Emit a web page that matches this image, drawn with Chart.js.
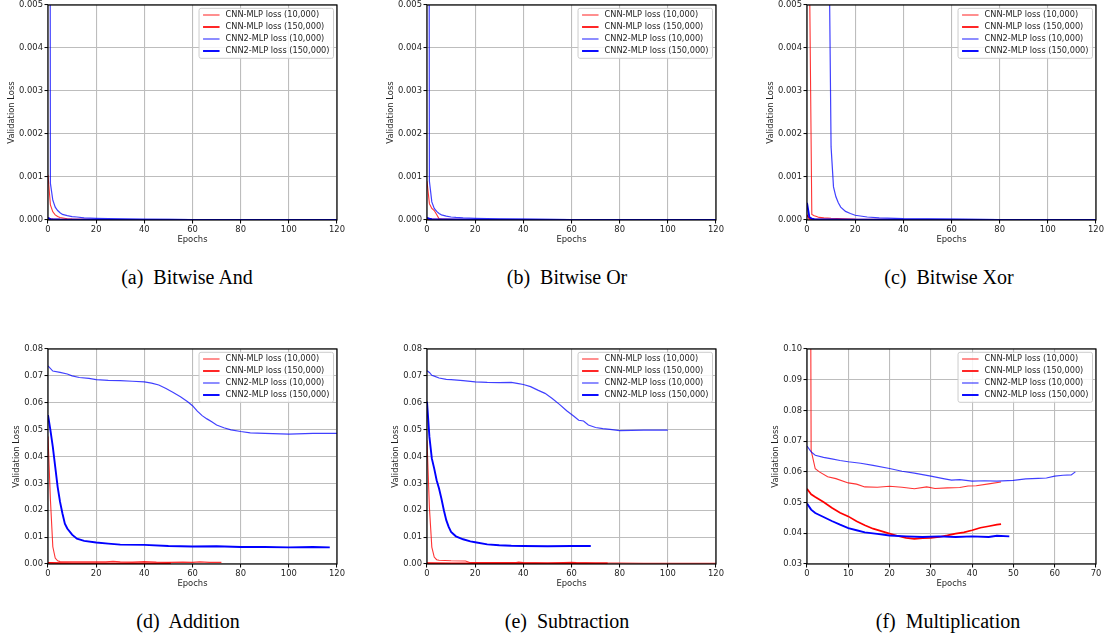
<!DOCTYPE html>
<html>
<head>
<meta charset="utf-8">
<script src="https://cdn.jsdelivr.net/npm/chart.js@4.4.0/dist/chart.umd.min.js"></script>
<style>
  html, body { margin: 0; padding: 0; background: #fff; }
  body { width: 1110px; height: 639px; position: relative; overflow: hidden; }
  canvas { position: absolute; }
  .caption {
    position: absolute;
    font-family: 'Liberation Serif', 'Times New Roman', serif;
    font-size: 20px;
    color: #000;
    transform: translate(-50%, -50%);
    white-space: nowrap;
  }
</style>
</head>
<body>
<canvas id="c-and"></canvas>
<canvas id="c-or"></canvas>
<canvas id="c-xor"></canvas>
<canvas id="c-add"></canvas>
<canvas id="c-sub"></canvas>
<canvas id="c-mul"></canvas>
<div class="caption" style="left:187px; top:277px">(a)&nbsp; Bitwise And</div>
<div class="caption" style="left:567px; top:277px">(b)&nbsp; Bitwise Or</div>
<div class="caption" style="left:949px; top:277px">(c)&nbsp; Bitwise Xor</div>
<div class="caption" style="left:188px; top:621px">(d)&nbsp; Addition</div>
<div class="caption" style="left:567px; top:621px">(e)&nbsp; Subtraction</div>
<div class="caption" style="left:948px; top:621px">(f)&nbsp; Multiplication</div>
<script>
// legend labels, same order in every panel
const seriesLabels = ['CNN-MLP loss (10,000)', 'CNN-MLP loss (150,000)', 'CNN2-MLP loss (10,000)', 'CNN2-MLP loss (150,000)'];

// (a) Bitwise And
const andCnn10Epochs = [0, 1, 2, 3, 4, 5, 8, 10, 15, 20, 30, 40, 60, 80, 100, 120];
const andCnn10Loss = [0.00105, 0.00035, 0.00019, 0.00012, 0.00008, 0.00006, 0.00003, 0.00002, 0.000015, 0.00001, 0.000008, 0.000006, 0.000005, 0.000004, 0.000004, 0.000003];
const andCnn150Epochs = [0, 1, 2, 5, 10, 20, 40, 60, 80, 100, 120];
const andCnn150Loss = [0.00004, 0.00002, 0.000015, 0.00001, 0.000008, 0.000006, 0.000005, 0.000004, 0.000004, 0.000003, 0.000003];
const andCnn2_10Epochs = [0, 1, 2, 3, 4, 5, 6, 8, 10, 12, 15, 20, 25, 30, 40, 50, 60, 80, 100, 120];
const andCnn2_10Loss = [0.06, 0.00085, 0.00046, 0.0003, 0.00022, 0.00017, 0.00013, 0.0001, 0.00008, 0.00007, 0.00005, 0.00004, 0.00003, 0.000025, 0.000018, 0.000014, 0.000012, 0.00001, 0.000008, 0.000007];
const andCnn2_150Epochs = [0, 1, 2, 5, 10, 20, 40, 60, 80, 100, 120];
const andCnn2_150Loss = [0.00005, 0.00002, 0.000015, 0.00001, 0.000008, 0.000006, 0.000005, 0.000004, 0.000004, 0.000003, 0.000003];

// (b) Bitwise Or
const orCnn10Epochs = [0, 1, 2, 3, 4, 5, 6, 8, 10, 15, 20, 30, 40, 60, 80, 100, 120];
const orCnn10Loss = [0.0009, 0.00038, 0.00027, 0.00022, 0.00013, 0.00003, 0.00002, 0.000015, 0.00001, 0.000008, 0.000006, 0.000005, 0.000004, 0.000004, 0.000003, 0.000003, 0.000003];
const orCnn150Epochs = [0, 1, 2, 5, 10, 20, 40, 60, 80, 100, 120];
const orCnn150Loss = [0.00003, 0.00002, 0.000015, 0.00001, 0.000008, 0.000006, 0.000005, 0.000004, 0.000004, 0.000003, 0.000003];
const orCnn2_10Epochs = [0, 1, 2, 3, 4, 5, 6, 8, 10, 12, 15, 20, 25, 30, 40, 50, 60, 80, 100, 120];
const orCnn2_10Loss = [0.05, 0.0009, 0.00042, 0.00027, 0.0002, 0.00015, 0.00012, 0.00009, 0.00007, 0.00006, 0.00005, 0.00004, 0.00003, 0.000025, 0.00002, 0.000015, 0.000012, 0.00001, 0.000008, 0.000007];
const orCnn2_150Epochs = [0, 1, 2, 5, 10, 20, 40, 60, 80, 100, 120];
const orCnn2_150Loss = [0.00005, 0.00003, 0.00002, 0.000012, 0.00001, 0.000007, 0.000005, 0.000004, 0.000004, 0.000003, 0.000003];

// (c) Bitwise Xor
const xorCnn10Epochs = [0, 1, 2, 3, 4, 5, 7, 10, 15, 20, 30, 40, 60, 80, 100, 120];
const xorCnn10Loss = [0.02, 0.006, 0.00013, 0.0001, 0.00008, 0.00006, 0.00005, 0.00004, 0.00003, 0.00002, 0.000015, 0.00001, 0.000008, 0.000006, 0.000005, 0.000005];
const xorCnn150Epochs = [0, 1, 2, 3, 5, 10, 20, 40, 60, 80, 100, 120];
const xorCnn150Loss = [0.00012, 0.00003, 0.00002, 0.000015, 0.00001, 0.000008, 0.000006, 0.000005, 0.000004, 0.000004, 0.000003, 0.000003];
const xorCnn2_10Epochs = [0, 3, 6, 8, 9, 10, 11, 12, 13, 14, 16, 18, 20, 25, 30, 40, 50, 60, 80, 100, 120];
const xorCnn2_10Loss = [0.09, 0.07, 0.04, 0.02, 0.0073, 0.0017, 0.00077, 0.00054, 0.0004, 0.0003, 0.0002, 0.00015, 0.00011, 0.00007, 0.00005, 0.00003, 0.000025, 0.00002, 0.000012, 0.00001, 0.000008];
const xorCnn2_150Epochs = [0, 1, 2, 3, 5, 10, 20, 40, 60, 80, 100, 120];
const xorCnn2_150Loss = [0.0004, 0.00006, 0.00003, 0.00002, 0.000015, 0.00001, 0.000008, 0.000006, 0.000005, 0.000004, 0.000004, 0.000003];

// (d) Addition
const addCnn10Epochs = [0, 1, 2, 3, 4, 5, 8, 12, 16, 20, 24, 27, 30, 35, 40, 45, 50, 56, 60, 63, 67, 72];
const addCnn10Loss = [0.0474, 0.024, 0.0064, 0.0022, 0.0012, 0.0009, 0.0008, 0.0008, 0.0008, 0.0008, 0.0008, 0.001, 0.0008, 0.0007, 0.0009, 0.0007, 0.0006, 0.0007, 0.0006, 0.0008, 0.0006, 0.0006];
const addCnn150Epochs = [0, 5, 10, 20, 30, 40, 51];
const addCnn150Loss = [0.0004, 0.0003, 0.0002, 0.0002, 0.0002, 0.0002, 0.0002];
const addCnn2_10Epochs = [0, 2, 5, 8, 10, 13, 17, 20, 25, 30, 35, 40, 43, 46, 49, 52, 55, 58, 60, 62, 64, 66, 68, 70, 73, 76, 80, 84, 90, 100, 110, 120];
const addCnn2_10Loss = [0.0737, 0.0718, 0.0713, 0.0707, 0.07, 0.0694, 0.0691, 0.0686, 0.0683, 0.0682, 0.068, 0.0678, 0.0673, 0.0666, 0.0653, 0.0638, 0.0622, 0.0604, 0.0589, 0.0569, 0.0552, 0.054, 0.0529, 0.0517, 0.0507, 0.0499, 0.0493, 0.0488, 0.0486, 0.0483, 0.0486, 0.0486];
const addCnn2_150Epochs = [0, 1, 2, 3, 4, 5, 6, 7, 8, 10, 12, 15, 20, 25, 30, 40, 50, 60, 70, 80, 90, 100, 110, 117];
const addCnn2_150Loss = [0.0554, 0.0498, 0.0436, 0.0361, 0.0287, 0.0231, 0.0188, 0.015, 0.0132, 0.0109, 0.0094, 0.0086, 0.008, 0.0076, 0.0072, 0.0071, 0.0067, 0.0065, 0.0066, 0.0063, 0.0063, 0.0062, 0.0063, 0.0062];

// (e) Subtraction
const subCnn10Epochs = [0, 1, 2, 3, 4, 5, 10, 16, 18, 25, 30, 37, 38, 40, 50, 60, 62, 70, 80, 90, 100, 110, 120];
const subCnn10Loss = [0.046, 0.021, 0.0063, 0.0026, 0.0016, 0.0014, 0.0012, 0.0011, 0.0005, 0.0005, 0.0005, 0.0005, 0.0007, 0.0005, 0.0004, 0.0006, 0.0005, 0.0004, 0.0004, 0.0003, 0.0003, 0.0003, 0.0003];
const subCnn150Epochs = [0, 10, 20, 30, 40, 50, 60, 75];
const subCnn150Loss = [0.0003, 0.0002, 0.0002, 0.0002, 0.0002, 0.0002, 0.0002, 0.0002];
const subCnn2_10Epochs = [0, 1, 2, 3, 5, 8, 10, 15, 20, 25, 30, 35, 38, 40, 43, 46, 49, 52, 55, 58, 61, 63, 65, 67, 70, 73, 76, 80, 85, 90, 95, 100];
const subCnn2_10Loss = [0.0719, 0.0713, 0.0702, 0.0699, 0.0692, 0.0687, 0.0686, 0.0682, 0.0678, 0.0676, 0.0675, 0.0676, 0.0671, 0.0668, 0.066, 0.0647, 0.0635, 0.0616, 0.0594, 0.057, 0.055, 0.0535, 0.0532, 0.0517, 0.0508, 0.0504, 0.0501, 0.0496, 0.0497, 0.0498, 0.0498, 0.0498];
const subCnn2_150Epochs = [0, 1, 2, 3, 4, 5, 6, 7, 8, 9, 10, 12, 15, 18, 20, 25, 30, 35, 40, 50, 60, 68];
const subCnn2_150Loss = [0.0604, 0.0473, 0.0393, 0.0355, 0.0312, 0.0281, 0.0243, 0.02, 0.0163, 0.0138, 0.0119, 0.0103, 0.0092, 0.0084, 0.0081, 0.0073, 0.007, 0.0068, 0.0067, 0.0066, 0.0067, 0.0067];

// (f) Multiplication
const mulCnn10Epochs = [0, 1, 2, 3, 5, 7, 10, 12, 14, 17, 20, 23, 26, 29, 31, 34, 37, 39, 41, 44, 47];
const mulCnn10Loss = [0.5, 0.067, 0.061, 0.06, 0.0584, 0.0578, 0.0564, 0.056, 0.0551, 0.055, 0.0553, 0.055, 0.0545, 0.0551, 0.0546, 0.0548, 0.0549, 0.0554, 0.0555, 0.0561, 0.0567];
const mulCnn150Epochs = [0, 1, 2, 4, 6, 8, 10, 12, 14, 16, 18, 20, 22, 24, 26, 28, 30, 32, 34, 36, 38, 40, 42, 44, 46, 47];
const mulCnn150Loss = [0.0545, 0.0527, 0.0518, 0.0502, 0.0483, 0.0467, 0.0455, 0.0439, 0.0426, 0.0415, 0.0407, 0.0399, 0.0391, 0.0385, 0.0382, 0.0384, 0.0385, 0.0388, 0.0393, 0.0399, 0.0403, 0.041, 0.0418, 0.0423, 0.0428, 0.043];
const mulCnn2_10Epochs = [0, 1, 2, 4, 6, 8, 10, 13, 16, 20, 23, 26, 30, 33, 35, 37, 40, 43, 46, 50, 53, 56, 58, 60, 62, 64, 65];
const mulCnn2_10Loss = [0.0684, 0.0665, 0.0654, 0.0647, 0.0642, 0.0637, 0.0633, 0.0628, 0.0621, 0.0611, 0.0602, 0.0596, 0.0586, 0.0578, 0.0573, 0.0575, 0.057, 0.0571, 0.057, 0.0572, 0.0577, 0.0579, 0.058, 0.0586, 0.0589, 0.059, 0.06];
const mulCnn2_150Epochs = [0, 1, 2, 4, 6, 8, 10, 12, 14, 17, 20, 24, 28, 32, 36, 40, 44, 46, 49];
const mulCnn2_150Loss = [0.0497, 0.0477, 0.0466, 0.0453, 0.044, 0.0428, 0.0417, 0.041, 0.0403, 0.0398, 0.0393, 0.039, 0.0388, 0.039, 0.0388, 0.039, 0.0388, 0.0392, 0.039];

// line styles per series (thin for 10,000, thick for 150,000)
const lineStyles = [
  { color: 'rgba(255,0,0,0.8)', width: 1.1 },
  { color: '#ff0000', width: 1.7 },
  { color: 'rgba(0,0,255,0.75)', width: 1.2 },
  { color: '#0000ff', width: 1.9 }
];

const TEXT = '#1e1e1e';
const FONT = { family: '"DejaVu Sans", sans-serif', size: 8.4 };

// black box around the plot area, like matplotlib spines
const framePlugin = {
  id: 'frame',
  afterDatasetsDraw(chart) {
    const { ctx, chartArea: a } = chart;
    ctx.save();
    ctx.strokeStyle = '#000';
    ctx.lineWidth = 1.2;
    ctx.strokeRect(a.left, a.top, a.right - a.left, a.bottom - a.top);
    ctx.restore();
  }
};

// upper right legend box with line samples
const boxLegendPlugin = {
  id: 'boxLegend',
  afterDraw(chart) {
    const { ctx, chartArea: a } = chart;
    const sets = chart.data.datasets;
    ctx.save();
    ctx.font = '8.2px "DejaVu Sans", sans-serif';
    const textW = Math.max(...sets.map(d => ctx.measureText(d.label).width));
    const w = 26.5 + textW + 4;
    const h = 50;
    const x = a.right - 3.5 - w;
    const y = a.top + 3.3;
    ctx.fillStyle = 'rgba(255,255,255,0.85)';
    ctx.strokeStyle = '#cccccc';
    ctx.lineWidth = 1;
    ctx.beginPath();
    ctx.roundRect(x, y, w, h, 2);
    ctx.fill();
    ctx.stroke();
    ctx.textBaseline = 'middle';
    sets.forEach((d, i) => {
      const cy = y + 6.7 + i * 12;
      ctx.strokeStyle = d.borderColor;
      ctx.lineWidth = d.borderWidth;
      ctx.beginPath();
      ctx.moveTo(x + 4, cy);
      ctx.lineTo(x + 20.5, cy);
      ctx.stroke();
      ctx.fillStyle = TEXT;
      ctx.fillText(d.label, x + 26.5, cy);
    });
    ctx.restore();
  }
};

const Y_AXIS_W = 46, X_AXIS_H = 30, PAD_TOP = 12, PAD_RIGHT = 24;
const PLOT_W = 289, PLOT_H = 215;

function drawPanel(canvasId, plotLeft, plotTop, series, xMax, xStep, yMin, yMax, yStep, decimals, yTitlePad) {
  const canvas = document.getElementById(canvasId);
  canvas.width = Y_AXIS_W + PLOT_W + PAD_RIGHT;
  canvas.height = PAD_TOP + PLOT_H + X_AXIS_H;
  canvas.style.left = (plotLeft - Y_AXIS_W) + 'px';
  canvas.style.top = (plotTop - PAD_TOP) + 'px';

  const datasets = series.map(([epochs, loss], i) => ({
    label: seriesLabels[i],
    data: epochs.map((e, k) => ({ x: e, y: loss[k] })),
    borderColor: lineStyles[i].color,
    borderWidth: lineStyles[i].width,
    pointRadius: 0,
    tension: 0,
    fill: false,
    order: series.length - i
  }));

  new Chart(canvas, {
    type: 'line',
    data: { datasets },
    options: {
      responsive: false,
      animation: false,
      layout: { padding: { top: PAD_TOP, right: PAD_RIGHT, left: 0, bottom: 0 } },
      plugins: { legend: { display: false }, tooltip: { enabled: false } },
      scales: {
        x: {
          type: 'linear', min: 0, max: xMax,
          afterFit: s => { s.height = X_AXIS_H; },
          ticks: { stepSize: xStep, font: FONT, color: TEXT, padding: 1.5, maxRotation: 0 },
          grid: { color: '#bdbdbd', lineWidth: 1.1, tickColor: '#000', tickLength: 3.5, tickWidth: 1 },
          border: { display: false },
          title: { display: true, text: 'Epochs', font: FONT, color: TEXT, padding: { top: 0, bottom: 5 } }
        },
        y: {
          type: 'linear', min: yMin, max: yMax,
          afterFit: s => { s.width = Y_AXIS_W; },
          ticks: { stepSize: yStep, font: FONT, color: TEXT, padding: 1.5, callback: v => v.toFixed(decimals) },
          grid: { color: '#bdbdbd', lineWidth: 1.1, tickColor: '#000', tickLength: 3.5, tickWidth: 1 },
          border: { display: false },
          title: { display: true, text: 'Validation Loss', font: FONT, color: TEXT, padding: { top: yTitlePad, bottom: 0 } }
        }
      }
    },
    plugins: [framePlugin, boxLegendPlugin]
  });
}

drawPanel('c-and', 48, 5, [[andCnn10Epochs, andCnn10Loss], [andCnn150Epochs, andCnn150Loss], [andCnn2_10Epochs, andCnn2_10Loss], [andCnn2_150Epochs, andCnn2_150Loss]], 120, 20, 0, 0.005, 0.001, 3, 4.4);
drawPanel('c-or', 427, 5, [[orCnn10Epochs, orCnn10Loss], [orCnn150Epochs, orCnn150Loss], [orCnn2_10Epochs, orCnn2_10Loss], [orCnn2_150Epochs, orCnn2_150Loss]], 120, 20, 0, 0.005, 0.001, 3, 4.4);
drawPanel('c-xor', 807, 5, [[xorCnn10Epochs, xorCnn10Loss], [xorCnn150Epochs, xorCnn150Loss], [xorCnn2_10Epochs, xorCnn2_10Loss], [xorCnn2_150Epochs, xorCnn2_150Loss]], 120, 20, 0, 0.005, 0.001, 3, 4.4);
drawPanel('c-add', 48, 349, [[addCnn10Epochs, addCnn10Loss], [addCnn150Epochs, addCnn150Loss], [addCnn2_10Epochs, addCnn2_10Loss], [addCnn2_150Epochs, addCnn2_150Loss]], 120, 20, 0, 0.08, 0.01, 2, 9.4);
drawPanel('c-sub', 427, 349, [[subCnn10Epochs, subCnn10Loss], [subCnn150Epochs, subCnn150Loss], [subCnn2_10Epochs, subCnn2_10Loss], [subCnn2_150Epochs, subCnn2_150Loss]], 120, 20, 0, 0.08, 0.01, 2, 9.4);
drawPanel('c-mul', 807, 349, [[mulCnn10Epochs, mulCnn10Loss], [mulCnn150Epochs, mulCnn150Loss], [mulCnn2_10Epochs, mulCnn2_10Loss], [mulCnn2_150Epochs, mulCnn2_150Loss]], 70, 10, 0.03, 0.10, 0.01, 2, 9.4);
</script>
</body>
</html>
